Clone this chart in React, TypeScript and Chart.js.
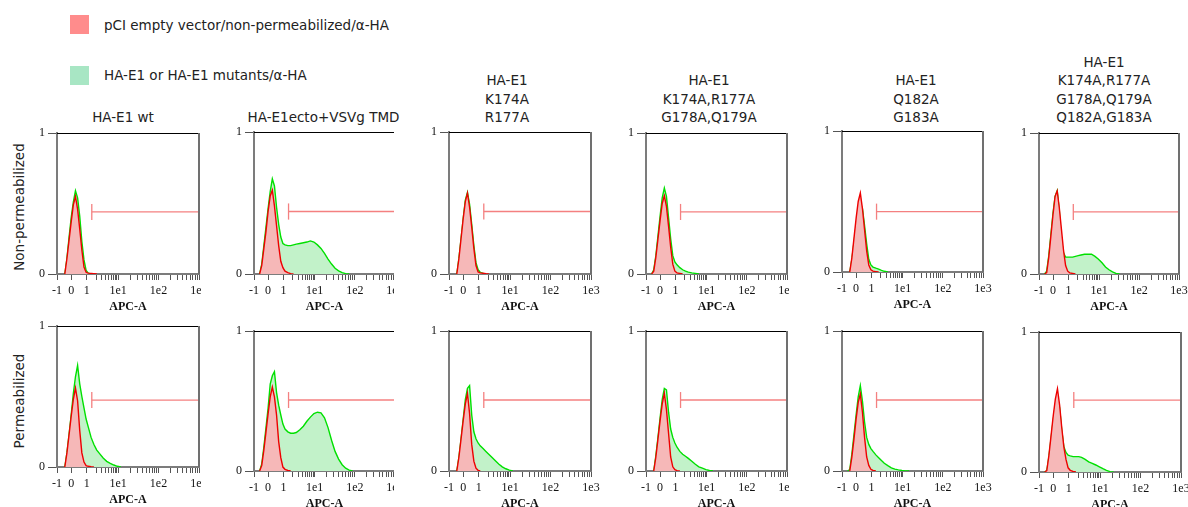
import React, { useEffect, useRef } from 'react';
import { Chart, registerables } from 'chart.js';

Chart.register(...registerables);

// ---------- DATA ----------
// histogram bin centres (instrument channel, 0..1000 across the display axis)
const binChannels = [40, 55, 70, 85, 100, 115, 130, 145, 160, 175, 190, 205, 220, 240, 260, 280, 300, 325, 350, 375, 400, 425, 450, 475, 500, 525, 550, 575, 600, 625, 650, 675, 700];

// axis tick channels and labels (biexponential APC-A axis)
const xMajorTicks = [0, 100, 210, 430, 715, 1000];
const xMajorLabels = ['-1', '0', '1', '1e1', '1e2', '1e3'];
const xMinorTicks = [276, 315, 342, 364, 381, 396, 409, 420, 516, 566, 602, 629, 652, 671, 687, 702, 801, 851, 887, 914, 937, 956, 972, 987];
const yTicks = [0, 1];

const columnTitles = [
  ['HA-E1 wt'],
  ['HA-E1ecto+VSVg TMD'],
  ['HA-E1', 'K174A', 'R177A'],
  ['HA-E1', 'K174A,R177A', 'G178A,Q179A'],
  ['HA-E1', 'Q182A', 'G183A'],
  ['HA-E1', 'K174A,R177A', 'G178A,Q179A', 'Q182A,G183A'],
];
const rowTitles = ['Non-permeabilized', 'Permeabilized'];
const legendLabels = ['pCI empty vector/non-permeabilized/α-HA', 'HA-E1 or HA-E1 mutants/α-HA'];

// gate marker
const gateChannel = 245;
const gateLevelNonPerm = [0.44, 0.44, 0.44, 0.44, 0.428, 0.44];
const gateLevelPerm = [0.475, 0.507, 0.507, 0.507, 0.507, 0.514];

// Non-permeabilized row: control (red) and HA-E1 sample (green)
const npRedWt = [null, 0, 0.11, 0.24, 0.37, 0.49, 0.55, 0.46, 0.32, 0.17, 0.05, 0.012, 0.006, 0.004, 0.002, 0];
const npGreenWt = [null, 0, 0.11, 0.26, 0.40, 0.51, 0.59, 0.54, 0.41, 0.23, 0.10, 0.025, 0.005, 0];
const npRedEcto = [0, 0.06, 0.18, 0.30, 0.44, 0.55, 0.59, 0.48, 0.34, 0.20, 0.09, 0.045, 0.02, 0.01, 0.003, 0];
const npGreenEcto = [0, 0.07, 0.20, 0.33, 0.46, 0.58, 0.67, 0.62, 0.47, 0.35, 0.26, 0.215, 0.205, 0.20, 0.20, 0.205, 0.21, 0.215, 0.22, 0.225, 0.233, 0.225, 0.205, 0.18, 0.145, 0.105, 0.07, 0.04, 0.022, 0.01, 0.003, 0];
const npRedM1 = [null, 0, 0.11, 0.25, 0.39, 0.51, 0.57, 0.47, 0.33, 0.18, 0.06, 0.015, 0.008, 0.005, 0.002, 0];
const npGreenM1 = [null, 0, 0.11, 0.25, 0.39, 0.52, 0.575, 0.49, 0.35, 0.20, 0.08, 0.03, 0.012, 0.004, 0];
const npRedM2 = [0, 0.02, 0.12, 0.25, 0.38, 0.50, 0.555, 0.48, 0.34, 0.19, 0.07, 0.02, 0.008, 0.004, 0];
const npGreenM2 = [0, 0.03, 0.13, 0.27, 0.41, 0.54, 0.61, 0.55, 0.40, 0.25, 0.13, 0.085, 0.065, 0.045, 0.03, 0.02, 0.013, 0.008, 0.004, 0];
const npRedM3 = [null, 0, 0.10, 0.24, 0.38, 0.50, 0.56, 0.45, 0.30, 0.15, 0.05, 0.015, 0.006, 0.003, 0];
const npGreenM3 = [null, 0, 0.09, 0.21, 0.33, 0.44, 0.49, 0.45, 0.33, 0.20, 0.09, 0.05, 0.035, 0.027, 0.02, 0.012, 0.005, 0];
const npRedM4 = [0, 0.01, 0.12, 0.27, 0.42, 0.55, 0.59, 0.47, 0.32, 0.17, 0.06, 0.02, 0.008, 0.004, 0];
const npGreenM4 = [0, 0.02, 0.13, 0.28, 0.43, 0.55, 0.59, 0.45, 0.24, 0.15, 0.12, 0.12, 0.12, 0.12, 0.125, 0.13, 0.135, 0.14, 0.14, 0.14, 0.125, 0.105, 0.08, 0.05, 0.03, 0.015, 0.004, 0];

// Permeabilized row
const pRedWt = [null, 0, 0.10, 0.23, 0.36, 0.48, 0.56, 0.47, 0.26, 0.10, 0.035, 0.01, 0.005, 0.002, 0];
const pGreenWt = [null, 0, 0.10, 0.23, 0.37, 0.52, 0.64, 0.72, 0.59, 0.50, 0.42, 0.34, 0.285, 0.21, 0.16, 0.12, 0.095, 0.064, 0.04, 0.026, 0.014, 0.005, 0];
const pRedEcto = [0, 0.04, 0.15, 0.28, 0.41, 0.53, 0.60, 0.53, 0.40, 0.21, 0.095, 0.028, 0.012, 0.004, 0];
const pGreenEcto = [0, 0.05, 0.17, 0.31, 0.45, 0.62, 0.68, 0.71, 0.56, 0.47, 0.40, 0.335, 0.30, 0.28, 0.27, 0.27, 0.275, 0.295, 0.32, 0.355, 0.385, 0.41, 0.42, 0.415, 0.38, 0.31, 0.22, 0.14, 0.085, 0.045, 0.02, 0.006, 0];
const pRedM1 = [null, 0, 0.10, 0.23, 0.36, 0.48, 0.555, 0.41, 0.19, 0.07, 0.02, 0.005, 0];
const pGreenM1 = [null, 0, 0.10, 0.23, 0.37, 0.51, 0.59, 0.61, 0.40, 0.28, 0.23, 0.20, 0.18, 0.16, 0.14, 0.12, 0.10, 0.075, 0.05, 0.03, 0.016, 0.006, 0];
const pRedM2 = [null, 0, 0.10, 0.23, 0.36, 0.48, 0.555, 0.44, 0.27, 0.10, 0.03, 0.01, 0.003, 0];
const pGreenM2 = [null, 0, 0.11, 0.24, 0.38, 0.51, 0.59, 0.58, 0.42, 0.30, 0.24, 0.20, 0.17, 0.14, 0.12, 0.105, 0.09, 0.07, 0.048, 0.03, 0.02, 0.01, 0.004, 0];
const pRedM3 = [null, 0, 0.10, 0.23, 0.37, 0.49, 0.55, 0.42, 0.24, 0.10, 0.04, 0.012, 0.004, 0];
const pGreenM3 = [0, 0.01, 0.12, 0.26, 0.40, 0.53, 0.61, 0.50, 0.35, 0.24, 0.19, 0.16, 0.14, 0.115, 0.095, 0.075, 0.055, 0.038, 0.022, 0.013, 0.008, 0.004, 0.001, 0];
const pRedM4 = [0, 0.01, 0.12, 0.26, 0.40, 0.52, 0.595, 0.48, 0.32, 0.18, 0.09, 0.03, 0.012, 0.004, 0];
const pGreenM4 = [0, 0.01, 0.11, 0.24, 0.37, 0.48, 0.53, 0.46, 0.30, 0.18, 0.14, 0.12, 0.115, 0.11, 0.11, 0.11, 0.105, 0.09, 0.072, 0.062, 0.05, 0.037, 0.024, 0.012, 0.003, 0];

const redRows = [
  [npRedWt, npRedEcto, npRedM1, npRedM2, npRedM3, npRedM4],
  [pRedWt, pRedEcto, pRedM1, pRedM2, pRedM3, pRedM4],
];
const greenRows = [
  [npGreenWt, npGreenEcto, npGreenM1, npGreenM2, npGreenM3, npGreenM4],
  [pGreenWt, pGreenEcto, pGreenM1, pGreenM2, pGreenM3, pGreenM4],
];
const gateRows = [gateLevelNonPerm, gateLevelPerm];

// ---------- LAYOUT (pixel positions, kept separate from data) ----------
const plotBoxes = [
  [[57, 133, 199, 274], [254, 132, 395, 274], [449, 132, 591, 274], [646, 133, 787, 274], [842, 131, 983, 272], [1039, 133, 1179, 274]],
  [[57, 326, 199, 467], [254, 331, 395, 471], [449, 331, 591, 471], [646, 331, 787, 471], [842, 331, 983, 471], [1039, 332, 1181, 472]],
];
const columnClip = [2, -1, 15, 2, 15, 15];
const titleCenterX = [123, 323.5, 507, 709, 916, 1104];
const rowTitleCenterY = [207, 401];

const SANS = '"DejaVu Sans", sans-serif';
const SERIF = 'Liberation Serif';
const Y_AREA = 57;
const TOP_PAD = 14;
const RIGHT_PAD = 16;
const X_AREA = 42;

const framePlugin = {
  id: 'frame',
  afterDatasetsDraw(chart: any) {
    const { ctx, chartArea: a } = chart;
    ctx.save();
    ctx.strokeStyle = '#000';
    ctx.lineWidth = 1;
    ctx.beginPath();
    ctx.moveTo(a.left, Math.round(a.top) + 0.5);
    ctx.lineTo(a.right + 1, Math.round(a.top) + 0.5);
    ctx.stroke();
    ctx.strokeStyle = '#707070';
    ctx.lineWidth = 2;
    ctx.beginPath();
    ctx.moveTo(Math.round(a.right), a.top);
    ctx.lineTo(Math.round(a.right), a.bottom);
    ctx.stroke();
    ctx.restore();
  },
};

function toPoints(ys: (number | null)[]) {
  return ys.map((y, i) => ({ x: binChannels[i], y }));
}

function Panel({ box, clip, red, green, gate }: any) {
  const ref = useRef<HTMLCanvasElement | null>(null);
  const w = box[2] - box[0];
  const h = box[3] - box[1];
  const cw = Y_AREA + w + RIGHT_PAD;
  const ch = TOP_PAD + h + X_AREA;

  useEffect(() => {
    if (!ref.current) return;
    const allTicks = [...xMajorTicks, ...xMinorTicks].sort((a, b) => a - b);
    const chart = new Chart(ref.current, {
      type: 'line',
      data: {
        datasets: [
          {
            data: [{ x: gateChannel, y: gate }, { x: 1000, y: gate }],
            borderColor: '#f48080', borderWidth: 1.3, fill: false, pointRadius: 0,
          },
          {
            data: [{ x: gateChannel, y: gate - 0.057 }, { x: gateChannel, y: gate + 0.057 }],
            borderColor: '#f48080', borderWidth: 1.3, fill: false, pointRadius: 0,
          },
          {
            data: toPoints(red),
            borderColor: '#ee0000', borderWidth: 1.4, backgroundColor: '#f6b8b8', fill: 'origin', pointRadius: 0,
          },
          {
            data: toPoints(green),
            borderColor: '#00e000', borderWidth: 1.4, backgroundColor: '#c2f2c9', fill: 'origin', pointRadius: 0,
          },
        ],
      } as any,
      options: {
        animation: false,
        responsive: false,
        maintainAspectRatio: false,
        events: [],
        layout: { padding: { top: TOP_PAD, right: RIGHT_PAD, left: 0, bottom: 0 } },
        plugins: { legend: { display: false }, tooltip: { enabled: false }, title: { display: false } },
        elements: { line: { tension: 0 }, point: { radius: 0 } },
        scales: {
          x: {
            type: 'linear', min: 0, max: 1000,
            afterBuildTicks: (s: any) => { s.ticks = allTicks.map((v) => ({ value: v })); },
            afterFit: (s: any) => { s.height = X_AREA; s.paddingLeft = 0; s.paddingRight = 0; },
            ticks: {
              autoSkip: false, maxRotation: 0, minRotation: 0, padding: 4, color: '#111',
              font: { family: SERIF, size: 12 },
              callback: (v: any) => {
                const i = xMajorTicks.indexOf(Number(v));
                return i >= 0 ? xMajorLabels[i] : '';
              },
            },
            grid: { drawOnChartArea: false, drawTicks: true, tickLength: 6, color: '#555', lineWidth: 1 },
            border: { display: true, color: '#7c7c7c', width: 2 },
            title: {
              display: true, text: 'APC-A', color: '#111',
              font: { family: SERIF, size: 12, weight: 'bold' }, padding: { top: 0, bottom: 2 },
            },
          },
          y: {
            type: 'linear', min: 0, max: 1,
            afterBuildTicks: (s: any) => { s.ticks = yTicks.map((v) => ({ value: v })); },
            afterFit: (s: any) => { s.width = Y_AREA; s.paddingTop = 0; s.paddingBottom = 0; },
            ticks: { padding: 3, color: '#111', font: { family: SERIF, size: 12 }, callback: (v: any) => String(v) },
            grid: { drawOnChartArea: false, drawTicks: true, tickLength: 9, color: '#555', lineWidth: 1 },
            border: { display: true, color: '#7c7c7c', width: 2 },
          },
        },
      } as any,
      plugins: [framePlugin],
    });
    return () => chart.destroy();
  }, []);

  return (
    <div
      style={{
        position: 'absolute', left: box[0] - Y_AREA, top: box[1] - TOP_PAD,
        width: Y_AREA + w + clip, height: ch, overflow: 'hidden',
      }}
    >
      <canvas ref={ref} width={cw} height={ch} style={{ display: 'block', width: cw, height: ch }} />
    </div>
  );
}

export default function App() {
  const LINE = 18.5;
  const lastLineCenter = 117.5;
  return (
    <div style={{ position: 'absolute', left: 0, top: 0, width: 1188, height: 507, background: '#fff', fontFamily: SANS, color: '#222' }}>
      {/* legend */}
      {legendLabels.map((t, i) => (
        <React.Fragment key={t}>
          <div style={{ position: 'absolute', left: 70, top: i === 0 ? 15 : 66, width: 19, height: 19, background: i === 0 ? '#ff8c8c' : '#a8e6c4' }} />
          <div style={{ position: 'absolute', left: 104, top: (i === 0 ? 25 : 75) - 10, height: 20, lineHeight: '20px', fontSize: 13.5, whiteSpace: 'nowrap' }}>{t}</div>
        </React.Fragment>
      ))}

      {/* column titles */}
      {columnTitles.map((lines, c) => (
        <div
          key={c}
          style={{
            position: 'absolute', left: titleCenterX[c] - 100, width: 200,
            top: lastLineCenter + LINE / 2 - lines.length * LINE,
            textAlign: 'center', fontSize: 13.5, lineHeight: `${LINE}px`, whiteSpace: 'nowrap',
          }}
        >
          {lines.map((l) => <div key={l}>{l}</div>)}
        </div>
      ))}

      {/* row titles */}
      {rowTitles.map((t, r) => (
        <div
          key={t}
          style={{
            position: 'absolute', left: 19, top: rowTitleCenterY[r], fontSize: 13.5, whiteSpace: 'nowrap',
            transform: 'translate(-50%, -50%) rotate(-90deg)',
          }}
        >
          {t}
        </div>
      ))}

      {/* panels */}
      {plotBoxes.map((row, r) =>
        row.map((box, c) => (
          <Panel
            key={`${r}-${c}`}
            box={box}
            clip={columnClip[c]}
            red={redRows[r][c]}
            green={greenRows[r][c]}
            gate={gateRows[r][c]}
          />
        ))
      )}
    </div>
  );
}
